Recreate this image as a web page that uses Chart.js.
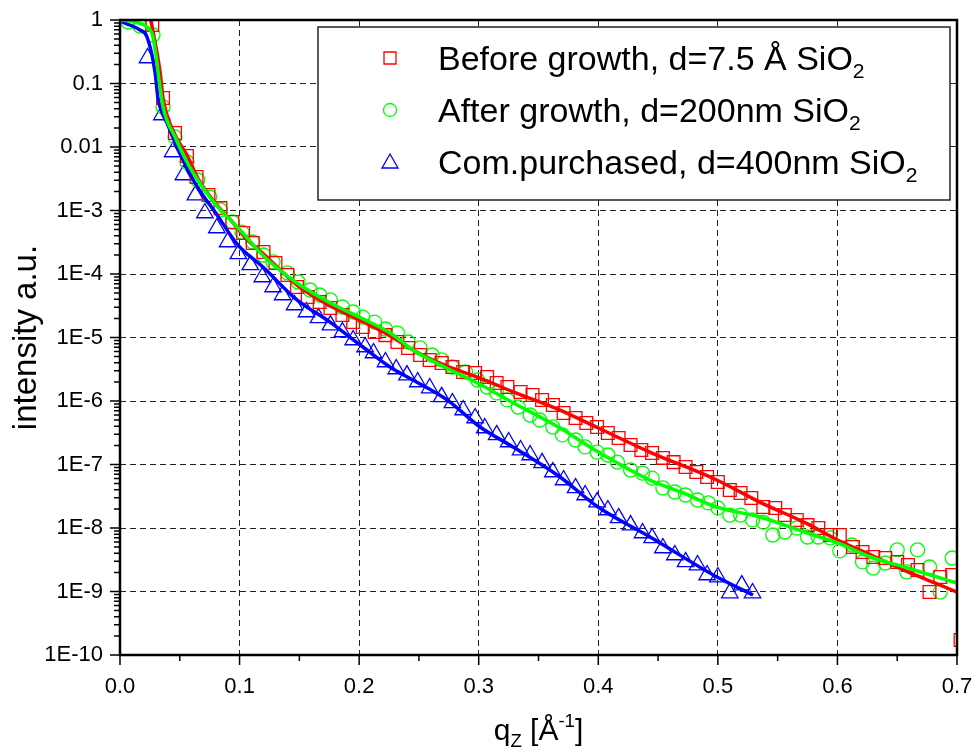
<!DOCTYPE html>
<html>
<head>
<meta charset="utf-8">
<script src="https://cdn.jsdelivr.net/npm/chart.js@4.4.1/dist/chart.umd.min.js"></script>
<style>
  html, body { margin: 0; padding: 0; background: #fff; }
  #wrap { width: 977px; height: 753px; }
</style>
</head>
<body>
<div id="wrap"><canvas id="xrr" width="977" height="753"></canvas></div>
<script>
// --- values ---
// Before growth, d=7.5 Å SiO2 (red squares + red fit)
const beforeQ = [0.027, 0.036, 0.046, 0.056, 0.064, 0.074, 0.084, 0.094, 0.103, 0.111, 0.120, 0.130, 0.140, 0.148, 0.157,
  0.167, 0.176, 0.186, 0.195, 0.203, 0.213, 0.222, 0.232, 0.241, 0.251, 0.259, 0.269, 0.278, 0.287, 0.297,
  0.307, 0.315, 0.324, 0.335, 0.345, 0.353, 0.362, 0.371, 0.381, 0.390, 0.399, 0.408, 0.417, 0.427, 0.436,
  0.445, 0.454, 0.463, 0.473, 0.482, 0.491, 0.500, 0.510, 0.519, 0.528, 0.538, 0.548, 0.556, 0.566, 0.575,
  0.584, 0.594, 0.602, 0.613, 0.621, 0.630, 0.640, 0.650, 0.659, 0.667, 0.677, 0.686, 0.696, 0.703];
const beforeI = [0.834, 0.0591, 0.0166, 0.00721, 0.00337, 0.00175, 0.00109, 6.59e-4, 4.43e-4, 3.08e-4, 2.22e-4, 1.49e-4, 9.64e-5, 6.24e-5, 4.35e-5,
  3.62e-5, 2.92e-5, 2.26e-5, 1.75e-5, 1.46e-5, 1.22e-5, 1.09e-5, 8.49e-6, 6.84e-6, 5.30e-6, 4.43e-6, 3.96e-6, 3.43e-6, 2.86e-6, 2.76e-6,
  2.39e-6, 1.92e-6, 1.66e-6, 1.39e-6, 1.24e-6, 1.04e-6, 8.65e-7, 6.47e-7, 5.40e-7, 4.51e-7, 3.90e-7, 3.13e-7, 2.61e-7, 2.03e-7, 1.69e-7,
  1.52e-7, 1.27e-7, 1.09e-7, 9.13e-8, 7.62e-8, 6.36e-8, 5.30e-8, 3.96e-8, 3.56e-8, 2.97e-8, 2.14e-8, 2.07e-8, 1.60e-8, 1.34e-8, 1.11e-8,
  1.0e-8, 7.76e-9, 7.76e-9, 5.02e-9, 4.19e-9, 3.49e-9, 3.37e-9, 2.92e-9, 2.61e-9, 2.18e-9, 9.8e-10, 1.69e-9, 1.82e-9, 1.72e-10];
const beforeFitQ = [0.025, 0.0335, 0.036, 0.046, 0.056, 0.065, 0.079, 0.094, 0.105, 0.120, 0.148, 0.176, 0.200, 0.226, 0.245,
  0.273, 0.301, 0.329, 0.368, 0.400, 0.443, 0.499, 0.535, 0.575, 0.600, 0.630, 0.659, 0.686, 0.700];
const beforeFitI = [1.2, 0.152, 0.0591, 0.0155, 0.00748, 0.00325, 0.00136, 6.59e-4, 3.69e-4, 2.07e-4, 6.71e-5, 3.13e-5, 1.89e-5, 1.06e-5, 6.35e-6,
  3.56e-6, 2.30e-6, 1.39e-6, 7.21e-7, 3.76e-7, 1.57e-7, 5.70e-8, 2.56e-8, 1.16e-8, 6.47e-9, 3.62e-9, 2.03e-9, 1.26e-9, 9.8e-10];

// After growth, d=200nm SiO2 (green circles + green fit)
const afterQ = [0.0067, 0.0167, 0.0276, 0.036, 0.046, 0.056, 0.065, 0.075, 0.084, 0.094, 0.102, 0.111, 0.120, 0.128, 0.140,
  0.149, 0.159, 0.167, 0.176, 0.186, 0.195, 0.203, 0.213, 0.222, 0.232, 0.241, 0.251, 0.261, 0.269, 0.278,
  0.289, 0.299, 0.307, 0.315, 0.324, 0.333, 0.343, 0.351, 0.362, 0.370, 0.381, 0.389, 0.399, 0.408, 0.416,
  0.427, 0.437, 0.445, 0.454, 0.464, 0.473, 0.483, 0.492, 0.500, 0.510, 0.519, 0.529, 0.538, 0.546, 0.556,
  0.566, 0.575, 0.584, 0.594, 0.602, 0.612, 0.621, 0.630, 0.640, 0.650, 0.658, 0.667, 0.677, 0.686, 0.696];
const afterI = [0.93, 0.804, 0.580, 0.0427, 0.0144, 0.00581, 0.00302, 0.00163, 0.00102, 6.59e-4, 4.58e-4, 3.19e-4, 1.99e-4, 1.55e-4, 1.04e-4,
  7.48e-5, 5.60e-5, 4.67e-5, 3.90e-5, 3.02e-5, 2.52e-5, 2.10e-5, 1.75e-5, 1.36e-5, 1.18e-5, 8.49e-6, 6.84e-6, 5.30e-6, 4.43e-6, 3.43e-6,
  2.86e-6, 2.14e-6, 1.66e-6, 1.34e-6, 1.04e-6, 8.05e-7, 6.02e-7, 5.02e-7, 3.90e-7, 2.92e-7, 2.43e-7, 1.89e-7, 1.57e-7, 1.41e-7, 1.09e-7,
  8.19e-8, 7.34e-8, 6.12e-8, 4.27e-8, 3.69e-8, 3.31e-8, 2.76e-8, 2.48e-8, 2.07e-8, 1.60e-8, 1.60e-8, 1.34e-8, 1.24e-8, 7.76e-9, 8.65e-9,
  1.0e-8, 7.21e-9, 7.21e-9, 6.97e-9, 4.35e-9, 5.40e-9, 2.92e-9, 2.34e-9, 2.81e-9, 4.51e-9, 2.03e-9, 4.51e-9, 2.43e-9, 9.8e-10, 3.37e-9];
const afterFitQ = [0.002, 0.0125, 0.0226, 0.0276, 0.036, 0.046, 0.056, 0.065, 0.075, 0.084, 0.094, 0.102, 0.120, 0.148, 0.176,
  0.200, 0.226, 0.245, 0.273, 0.299, 0.329, 0.368, 0.400, 0.443, 0.471, 0.499, 0.535, 0.575, 0.600, 0.630, 0.659, 0.686, 0.700];
const afterFitI = [1.0, 0.93, 0.776, 0.540, 0.0427, 0.0144, 0.00581, 0.00302, 0.00163, 0.00102, 6.59e-4, 4.58e-4, 1.92e-4, 7.21e-5, 3.49e-5,
  2.10e-5, 1.18e-5, 6.35e-6, 3.31e-6, 1.92e-6, 9.31e-7, 3.76e-7, 1.57e-7, 5.70e-8, 3.56e-8, 2.14e-8, 1.49e-8, 8.34e-9, 5.81e-9, 3.37e-9, 2.34e-9, 1.63e-9, 1.36e-9];

// Com.purchased, d=400nm SiO2 (blue triangles + blue fit)
const comQ = [0.023, 0.035, 0.044, 0.053, 0.063, 0.071, 0.081, 0.090, 0.099, 0.109, 0.119, 0.128, 0.136, 0.146, 0.156,
  0.166, 0.176, 0.186, 0.195, 0.205, 0.212, 0.222, 0.231, 0.240, 0.249, 0.259, 0.269, 0.278, 0.287, 0.297,
  0.305, 0.315, 0.325, 0.335, 0.343, 0.353, 0.362, 0.371, 0.381, 0.389, 0.399, 0.408, 0.417, 0.427, 0.437,
  0.445, 0.454, 0.464, 0.473, 0.483, 0.491, 0.500, 0.510, 0.520, 0.529];
const comI = [0.252, 0.0319, 0.00834, 0.00362, 0.00175, 9.14e-4, 5.30e-4, 3.19e-4, 2.07e-4, 1.39e-4, 8.97e-5, 6.24e-5, 4.67e-5, 3.25e-5, 2.52e-5,
  2.03e-5, 1.57e-5, 1.22e-5, 9.14e-6, 7.08e-6, 5.70e-6, 4.11e-6, 3.19e-6, 2.56e-6, 1.99e-6, 1.60e-6, 1.16e-6, 9.31e-7, 7.21e-7, 5.40e-7,
  3.76e-7, 2.92e-7, 2.26e-7, 1.69e-7, 1.41e-7, 1.06e-7, 7.62e-8, 5.70e-8, 4.27e-8, 3.31e-8, 2.56e-8, 1.92e-8, 1.44e-8, 1.11e-8, 8.34e-9,
  6.97e-9, 4.84e-9, 3.76e-9, 2.92e-9, 2.61e-9, 1.82e-9, 1.69e-9, 9.46e-10, 1.26e-9, 9.46e-10];
const comFitQ = [0.0017, 0.0167, 0.0226, 0.0293, 0.0318, 0.0401, 0.0519, 0.0652, 0.0795, 0.0987, 0.1196, 0.148, 0.1756, 0.2032, 0.2258,
  0.245, 0.2735, 0.3011, 0.3287, 0.368, 0.3998, 0.4433, 0.4993, 0.5294];
const comFitI = [0.93, 0.696, 0.540, 0.152, 0.0591, 0.0222, 0.00671, 0.00226, 9.46e-4, 2.86e-4, 1.29e-4, 3.90e-5, 1.75e-5, 7.08e-6, 3.43e-6,
  2.14e-6, 1.04e-6, 3.90e-7, 1.89e-7, 6.36e-8, 2.14e-8, 7.21e-9, 1.69e-9, 8.81e-10];

// axes
const xTickValues = [0, 0.1, 0.2, 0.3, 0.4, 0.5, 0.6, 0.7];
const xMinorValues = [0.05, 0.15, 0.25, 0.35, 0.45, 0.55, 0.65];
const yTickValues = [1e-10, 1e-9, 1e-8, 1e-7, 1e-6, 1e-5, 1e-4, 1e-3, 0.01, 0.1, 1];
const yTickLabels = ['1E-10', '1E-9', '1E-8', '1E-7', '1E-6', '1E-5', '1E-4', '1E-3', '0.01', '0.1', '1'];

const legendItems = [
  { text: [['Before growth, d=7.5 Å SiO'], ['2', 'sub']], style: 'rect', color: '#ff0000' },
  { text: [['After growth, d=200nm SiO'], ['2', 'sub']], style: 'circle', color: '#00ff00' },
  { text: [['Com.purchased, d=400nm SiO'], ['2', 'sub']], style: 'triangle', color: '#0000ff' }
];

const FONT = "'Liberation Sans', Arial, sans-serif";

function pts(qs, vals) {
  return qs.map((q, i) => ({ x: q, y: vals[i] }));
}

function markerSet(label, data, style, color, radius, order) {
  return {
    label, data, order,
    showLine: false,
    pointStyle: style,
    pointRadius: radius,
    pointHoverRadius: radius,
    pointBorderColor: color,
    pointBackgroundColor: 'rgba(0,0,0,0)',
    pointBorderWidth: 1.3,
    borderColor: color
  };
}

function fitSet(data, color, order) {
  return {
    data, order,
    showLine: true,
    pointRadius: 0,
    pointHoverRadius: 0,
    borderColor: color,
    borderWidth: 3.5,
    cubicInterpolationMode: 'monotone',
    fill: false
  };
}

// text with sub/superscript pieces
function richWidth(ctx, parts, size) {
  let w = 0;
  parts.forEach(([t, kind]) => {
    ctx.font = (kind ? size * 0.62 : size) + 'px ' + FONT;
    w += ctx.measureText(t).width;
  });
  return w;
}
function drawRich(ctx, parts, x, y, size) {
  let cx = x;
  parts.forEach(([t, kind]) => {
    const s = kind ? size * 0.62 : size;
    ctx.font = s + 'px ' + FONT;
    const dy = kind === 'sub' ? size * 0.24 : (kind === 'sup' ? -size * 0.45 : 0);
    ctx.fillText(t, cx, y + dy);
    cx += ctx.measureText(t).width;
  });
}

function legendMarker(ctx, style, color, x, y) {
  ctx.save();
  ctx.strokeStyle = color;
  ctx.lineWidth = 1.3;
  ctx.beginPath();
  if (style === 'rect') {
    ctx.rect(x - 6, y - 6, 12, 12);
  } else if (style === 'circle') {
    ctx.arc(x, y, 6.5, 0, Math.PI * 2);
  } else {
    ctx.moveTo(x, y - 8);
    ctx.lineTo(x + 8, y + 6);
    ctx.lineTo(x - 8, y + 6);
    ctx.closePath();
  }
  ctx.stroke();
  ctx.restore();
}

const decor = {
  id: 'decor',
  afterDatasetsDraw(chart) {
    const { ctx, chartArea: a, scales: { x, y } } = chart;
    ctx.save();
    ctx.strokeStyle = '#000';
    // ticks
    ctx.lineWidth = 1.5;
    ctx.beginPath();
    xTickValues.forEach(v => { const px = x.getPixelForValue(v); ctx.moveTo(px, a.bottom); ctx.lineTo(px, a.bottom + 10); });
    xMinorValues.forEach(v => { const px = x.getPixelForValue(v); ctx.moveTo(px, a.bottom); ctx.lineTo(px, a.bottom + 6); });
    yTickValues.forEach(v => { const py = y.getPixelForValue(v); ctx.moveTo(a.left, py); ctx.lineTo(a.left - 10, py); });
    for (let e = -10; e < 0; e++) {
      for (let m = 2; m <= 9; m++) {
        const py = y.getPixelForValue(m * Math.pow(10, e));
        ctx.moveTo(a.left, py); ctx.lineTo(a.left - 6, py);
      }
    }
    ctx.stroke();
    // frame
    ctx.lineWidth = 2.5;
    ctx.strokeRect(a.left, a.top, a.right - a.left, a.bottom - a.top);
    ctx.restore();
  },
  afterDraw(chart) {
    const { ctx, chartArea: a } = chart;
    ctx.save();
    ctx.fillStyle = '#000';
    ctx.textBaseline = 'alphabetic';
    // y title
    ctx.save();
    ctx.translate(36, (a.top + a.bottom) / 2);
    ctx.rotate(-Math.PI / 2);
    ctx.font = '33px ' + FONT;
    ctx.textAlign = 'center';
    ctx.fillText('intensity a.u.', 0, 0);
    ctx.restore();
    // x title
    const xt = [['q'], ['Z', 'sub'], [' [Å'], ['-1', 'sup'], [']']];
    ctx.textAlign = 'left';
    const w = richWidth(ctx, xt, 30);
    drawRich(ctx, xt, (a.left + a.right) / 2 - w / 2, 740, 30);
    // legend
    ctx.fillStyle = '#fff';
    ctx.fillRect(318, 27, 632, 173);
    ctx.strokeStyle = '#222';
    ctx.lineWidth = 1.5;
    ctx.strokeRect(318, 27, 632, 173);
    ctx.fillStyle = '#000';
    legendItems.forEach((it, i) => {
      const cy = 58 + i * 52;
      legendMarker(ctx, it.style, it.color, 390, cy);
      drawRich(ctx, it.text, 438, cy + 12, 34);
    });
    ctx.restore();
  }
};

new Chart(document.getElementById('xrr'), {
  type: 'scatter',
  data: {
    datasets: [
      fitSet(pts(afterFitQ, afterFitI), '#00ff00', 0),
      fitSet(pts(beforeFitQ, beforeFitI), '#ff0000', 1),
      fitSet(pts(comFitQ, comFitI), '#0000ff', 2),
      markerSet('Before growth', pts(beforeQ, beforeI), 'rect', '#ff0000', 9, 3),
      markerSet('After growth', pts(afterQ, afterI), 'circle', '#00ff00', 7, 4),
      markerSet('Com.purchased', pts(comQ, comI), 'triangle', '#0000ff', 9.5, 5)
    ]
  },
  options: {
    responsive: false,
    animation: false,
    devicePixelRatio: 1,
    layout: { padding: { left: 0, right: 20, top: 20, bottom: 0 } },
    plugins: { legend: { display: false }, tooltip: { enabled: false } },
    scales: {
      x: {
        type: 'linear',
        min: 0, max: 0.7,
        afterFit: s => { s.height = 98; s.paddingLeft = 0; s.paddingRight = 0; },
        afterBuildTicks: s => { s.ticks = xTickValues.map(v => ({ value: v })); },
        ticks: {
          padding: 19,
          color: '#000',
          font: { family: FONT, size: 22 },
          callback: v => v.toFixed(1)
        },
        grid: { color: '#222', lineWidth: 1, drawTicks: false },
        border: { display: false, dash: [6, 4] }
      },
      y: {
        type: 'logarithmic',
        min: 1e-10, max: 1,
        afterFit: s => { s.width = 120; s.paddingTop = 0; s.paddingBottom = 0; },
        afterBuildTicks: s => { s.ticks = yTickValues.map(v => ({ value: v })); },
        ticks: {
          padding: 17,
          color: '#000',
          font: { family: FONT, size: 22 },
          callback: (v, i) => yTickLabels[i]
        },
        grid: { color: '#222', lineWidth: 1, drawTicks: false },
        border: { display: false, dash: [6, 4] }
      }
    }
  },
  plugins: [decor]
});
</script>
</body>
</html>
